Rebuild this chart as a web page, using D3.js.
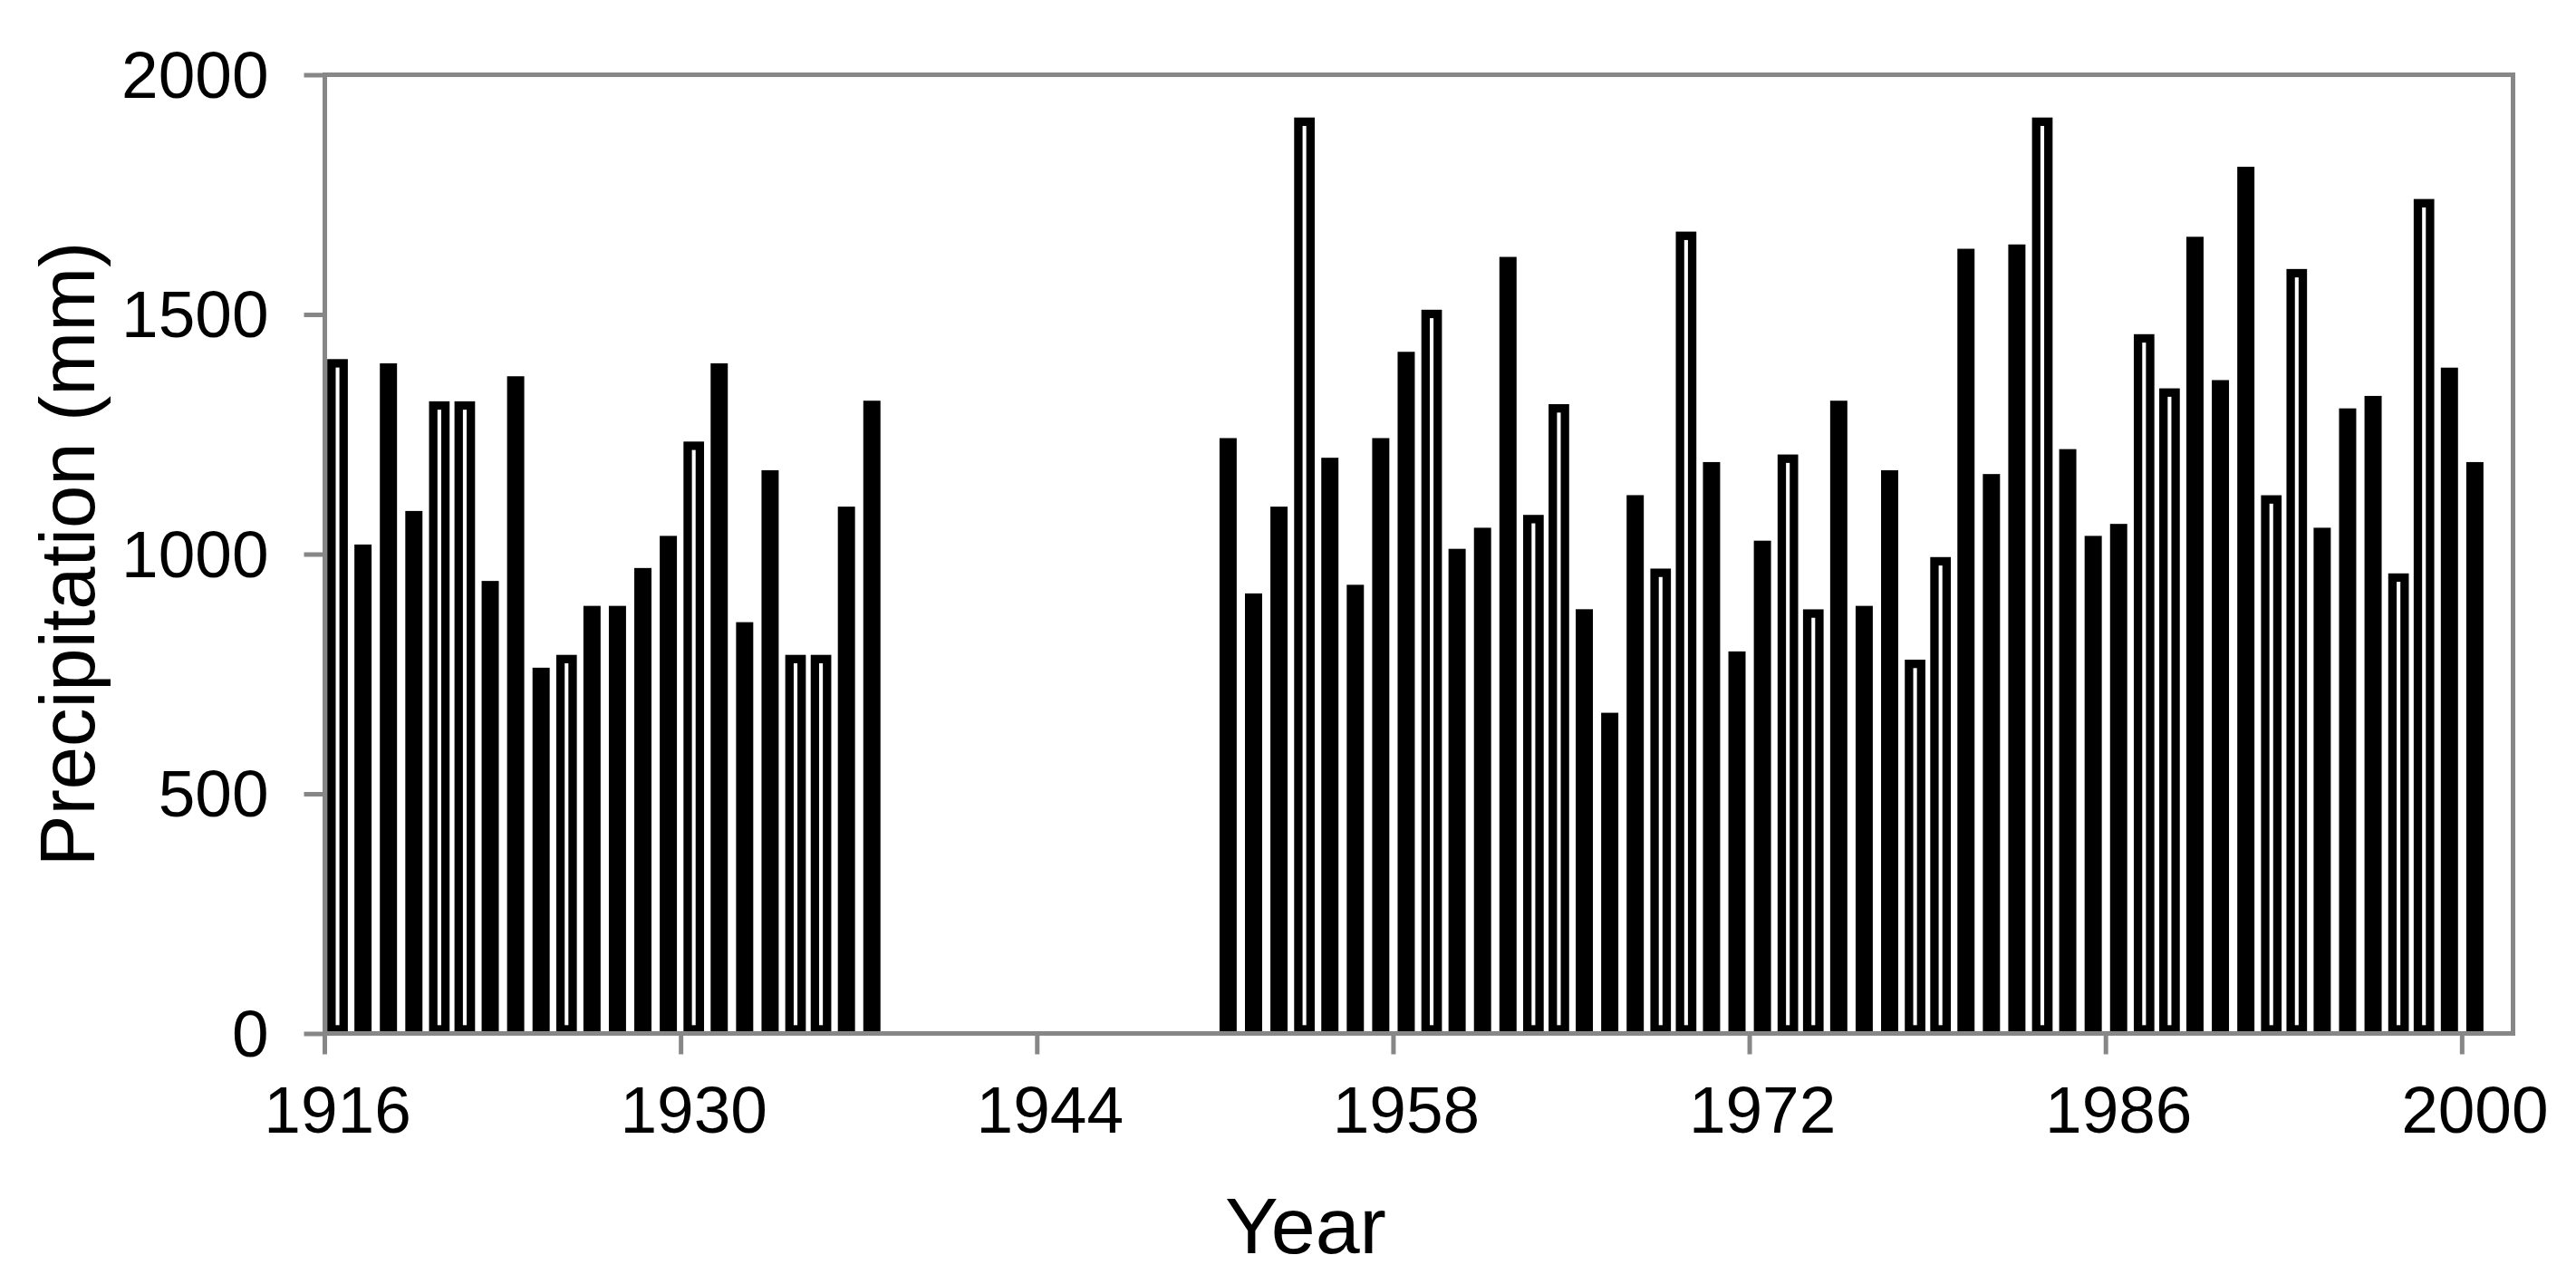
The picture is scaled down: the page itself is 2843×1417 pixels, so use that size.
<!DOCTYPE html>
<html>
<head>
<meta charset="utf-8">
<script src="https://cdn.jsdelivr.net/npm/d3@7"></script>
<style>
  body { margin: 0; background: #fff; }
  text { font-family: "Liberation Sans", Arial, sans-serif; fill: #000; }
</style>
</head>
<body>
<div id="chart"></div>
<script>
// annual precipitation (mm)
var earlyStart = 1916;
var earlyPrecip = [1398, 1020, 1398, 1090, 1310, 1310, 944, 1371, 763, 781, 892,
  892, 971, 1038, 1226, 1398, 858, 1175, 781, 781, 1099, 1320];

var lateStart = 1951;
var latePrecip = [1242, 918, 1099, 1902, 1201, 936, 1242, 1422, 1501, 1011,
  1055, 1620, 1073, 1304, 885, 669, 1123, 961, 1664, 1192,
  797, 1028, 1199, 876, 1320, 892, 1175, 771, 985, 1637,
  1167, 1646, 1902, 1219, 1038, 1063, 1450, 1337, 1662, 1363,
  1808, 1114, 1586, 1055, 1304, 1330, 951, 1732, 1389, 1192];

// years drawn as open bars
var hollowYears = [1916, 1920, 1921, 1925, 1930, 1934, 1935, 1954, 1959, 1963,
  1964, 1968, 1969, 1973, 1974, 1978, 1979, 1983, 1987, 1988, 1992, 1993, 1997, 1998];

var xTickYears = [1916, 1930, 1944, 1958, 1972, 1986, 2000];
var yTickValues = [0, 500, 1000, 1500, 2000];
var axisYears = d3.range(1916, 2002);

var svgWidth = 2843;
var svgHeight = 1417;

var plot = { left: 358.5, right: 2773.5, top: 82.5, bottom: 1140.5 };
var axisColor = "#878787";

var svg = d3.select("#chart")
  .append("svg")
  .attr("width", svgWidth)
  .attr("height", svgHeight)
  .style("display", "block");

// build data rows
var data = [];
earlyPrecip.forEach(function(v, i) {
  data.push({ year: earlyStart + i, value: v });
});
latePrecip.forEach(function(v, i) {
  data.push({ year: lateStart + i, value: v });
});
data.forEach(function(d) {
  d.hollow = hollowYears.indexOf(d.year) >= 0;
});

// scales
var xScale = d3.scaleBand()
  .domain(axisYears)
  .range([plot.left, plot.right])
  .padding(0);

var yScale = d3.scaleLinear()
  .domain([0, 2000])
  .range([plot.bottom, plot.top]);

var step = xScale.step();
var solidWidth = step * 0.675;
var hollowStroke = 9.3;
var hollowWidth = 13.4;

// solid bars
svg.append("g")
  .selectAll("rect")
  .data(data.filter(d => !d.hollow))
  .enter()
  .append("rect")
  .attr("x", d => xScale(d.year) + step / 2 - solidWidth / 2)
  .attr("y", d => yScale(d.value))
  .attr("width", solidWidth)
  .attr("height", d => yScale(0) - yScale(d.value))
  .attr("fill", "#000");

// open bars (bottom edge kept above the axis line)
svg.append("g")
  .selectAll("rect")
  .data(data.filter(d => d.hollow))
  .enter()
  .append("rect")
  .attr("x", d => xScale(d.year) + step / 2 - hollowWidth / 2)
  .attr("y", d => yScale(d.value))
  .attr("width", hollowWidth)
  .attr("height", d => yScale(0) - yScale(d.value) - 4.5)
  .attr("fill", "#fff")
  .attr("stroke", "#000")
  .attr("stroke-width", hollowStroke);

// plot frame
svg.append("rect")
  .attr("x", plot.left)
  .attr("y", plot.top)
  .attr("width", plot.right - plot.left)
  .attr("height", plot.bottom - plot.top)
  .attr("fill", "none")
  .attr("stroke", axisColor)
  .attr("stroke-width", 5);

// y axis
var leftAxis = d3.axisLeft(yScale)
  .tickValues(yTickValues)
  .tickSize(23)
  .tickPadding(39)
  .tickFormat(d3.format("d"));

var yAxis = svg.append("g")
  .attr("transform", `translate(${plot.left}, 0)`)
  .call(leftAxis);

yAxis.select(".domain").remove();
yAxis.selectAll(".tick line")
  .attr("stroke", axisColor)
  .attr("stroke-width", 5);
yAxis.selectAll(".tick text")
  .attr("font-size", 73)
  .attr("dy", "0.34em");

// x axis, ticks on the left edge of each labelled year, labels centred on the year
var xAxis = svg.append("g");

xAxis.selectAll("line")
  .data(xTickYears)
  .enter()
  .append("line")
  .attr("x1", d => xScale(d))
  .attr("x2", d => xScale(d))
  .attr("y1", plot.bottom)
  .attr("y2", plot.bottom + 23)
  .attr("stroke", axisColor)
  .attr("stroke-width", 5);

xAxis.selectAll("text")
  .data(xTickYears)
  .enter()
  .append("text")
  .attr("x", d => xScale(d) + step / 2)
  .attr("y", 1250)
  .attr("text-anchor", "middle")
  .attr("font-size", 73)
  .text(d => d);

// axis titles
svg.append("text")
  .attr("x", 1441)
  .attr("y", 1383)
  .attr("text-anchor", "middle")
  .attr("font-size", 88)
  .text("Year");

svg.append("text")
  .attr("transform", `translate(104, ${(plot.top + plot.bottom) / 2}) rotate(-90)`)
  .attr("text-anchor", "middle")
  .attr("font-size", 85)
  .text("Precipitation (mm)");
</script>
</body>
</html>
